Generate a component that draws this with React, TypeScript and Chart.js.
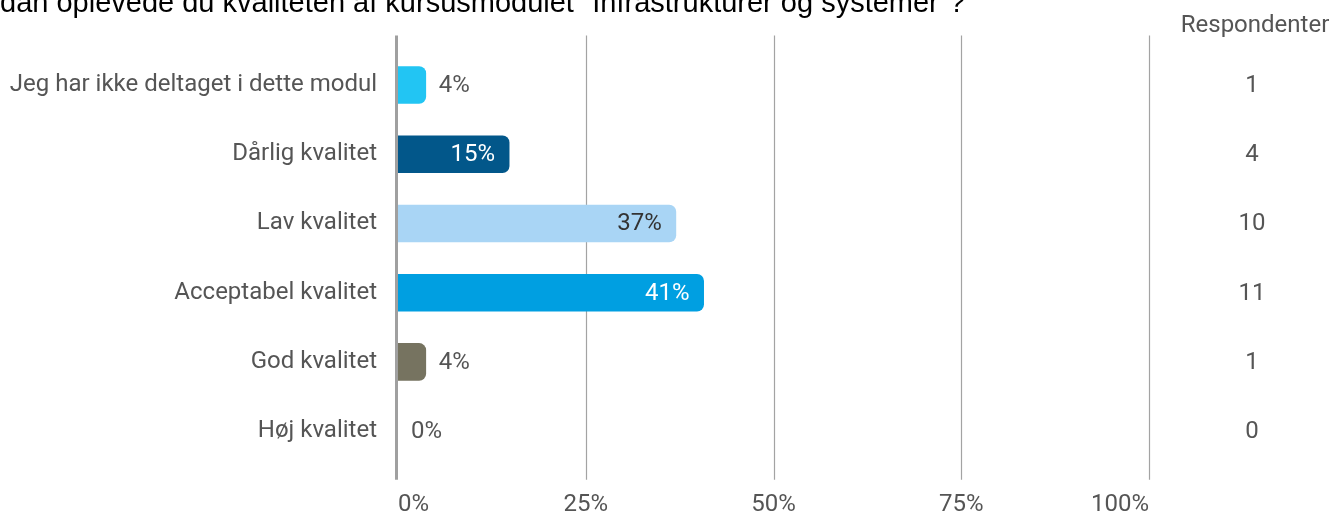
import React, { useEffect, useRef } from "react";
import { Chart, registerables } from "chart.js";

Chart.register(...registerables);

const titleText = 'Hvordan oplevede du kvaliteten af kursusmodulet "Infrastrukturer og systemer"?';
const titleHiddenPrefix = "Hvor";
const columnHeader = "Respondenter";

const categories = [
  "Jeg har ikke deltaget i dette modul",
  "Dårlig kvalitet",
  "Lav kvalitet",
  "Acceptabel kvalitet",
  "God kvalitet",
  "Høj kvalitet",
];
const percentValues = [3.7, 14.8, 37.0, 40.7, 3.7, 0];
const percentLabels = ["4%", "15%", "37%", "41%", "4%", "0%"];
const respondents = [1, 4, 10, 11, 1, 0];
const barColors = ["#22C5F3", "#02578A", "#A9D5F5", "#009FE1", "#767360", "rgba(0,0,0,0)"];
const insideLabelColors = ["#ffffff", "#ffffff", "#333333", "#ffffff", "#ffffff", "#ffffff"];
const xTickValues = [0, 25, 50, 75, 100];
const xTickLabels = ["0%", "25%", "50%", "75%", "100%"];

const TEXT = "#555555";
const FONT = "Roboto";

const overlayPlugin = {
  id: "overlay",
  beforeDatasetsDraw(chart: any) {
    const { ctx, chartArea } = chart;
    const xs = chart.scales.x;
    ctx.save();
    ctx.strokeStyle = "#a3a3a3";
    ctx.lineWidth = 1.2;
    xTickValues.forEach((v) => {
      if (v === 0) return;
      const px = Math.round(xs.getPixelForValue(v)) + 0.5;
      ctx.beginPath();
      ctx.moveTo(px, chartArea.top - 15);
      ctx.lineTo(px, chartArea.bottom + 14);
      ctx.stroke();
    });
    ctx.restore();
  },
  afterDatasetsDraw(chart: any) {
    const { ctx, chartArea } = chart;
    const xs = chart.scales.x;
    const ys = chart.scales.y;
    const meta = chart.getDatasetMeta(0);
    ctx.save();
    // zero axis line
    const x0 = xs.getPixelForValue(0);
    ctx.strokeStyle = "#a0a0a0";
    ctx.lineWidth = 3;
    ctx.beginPath();
    ctx.moveTo(x0 - 1.5, chartArea.top - 15);
    ctx.lineTo(x0 - 1.5, chartArea.bottom + 14);
    ctx.stroke();

    // value labels
    ctx.font = `24px ${FONT}`;
    ctx.textBaseline = "middle";
    meta.data.forEach((el: any, i: number) => {
      const v = percentValues[i];
      if (v >= 10) {
        ctx.textAlign = "right";
        ctx.fillStyle = insideLabelColors[i];
        ctx.fillText(percentLabels[i], el.x - 14, el.y + 1);
      } else {
        ctx.textAlign = "left";
        ctx.fillStyle = TEXT;
        ctx.fillText(percentLabels[i], el.x + 13, el.y + 1);
      }
    });

    // respondents column
    const colX = chartArea.right + 103;
    ctx.textAlign = "center";
    ctx.fillStyle = TEXT;
    respondents.forEach((n, i) => {
      ctx.fillText(String(n), colX, ys.getPixelForValue(i) + 1);
    });
    ctx.fillText(columnHeader, colX + 3, chartArea.top - 24);

    // title (clipped at the top-left as in the reference)
    ctx.font = `29px "Liberation Sans"`;
    ctx.fillStyle = "#000000";
    ctx.textAlign = "left";
    ctx.textBaseline = "alphabetic";
    const w = ctx.measureText(titleHiddenPrefix).width;
    ctx.fillText(titleText, -w, 12);
    ctx.restore();
  },
};

export default function App() {
  const ref = useRef<HTMLCanvasElement>(null);
  useEffect(() => {
    document.body.style.margin = "0";
    const chart = new Chart(ref.current as HTMLCanvasElement, {
      type: "bar",
      data: {
        labels: categories,
        datasets: [
          {
            data: percentValues,
            backgroundColor: barColors,
            borderRadius: 7,
            borderSkipped: "start",
            barThickness: 37,
          },
        ],
      },
      options: {
        indexAxis: "y",
        animation: false,
        responsive: false,
        devicePixelRatio: 1,
        layout: { padding: { top: 50.4, right: 194, bottom: 0, left: 0 } },
        plugins: { legend: { display: false }, tooltip: { enabled: false }, title: { display: false } },
        scales: {
          x: {
            type: "linear",
            min: 0,
            max: 100,
            position: "bottom",
            grid: { display: false, drawTicks: false },
            border: { display: false },
            afterBuildTicks: (s: any) => {
              s.ticks = xTickValues.map((v) => ({ value: v }));
            },
            ticks: {
              align: "inner",
              padding: 25,
              color: TEXT,
              font: { family: FONT, size: 24 },
              callback: (_v: any, i: number) => xTickLabels[i],
            },
            afterFit: (s: any) => {
              s.height = 50.2;
            },
          },
          y: {
            grid: { display: false, drawTicks: false },
            border: { display: false },
            ticks: { padding: 21, color: TEXT, font: { family: FONT, size: 24 } },
            afterFit: (s: any) => {
              s.width = 398;
            },
          },
        },
      } as any,
      plugins: [overlayPlugin],
    });
    return () => chart.destroy();
  }, []);
  return (
    <div style={{ width: 1343, height: 516 }}>
      <canvas ref={ref} width={1343} height={516} style={{ display: "block" }} />
    </div>
  );
}
